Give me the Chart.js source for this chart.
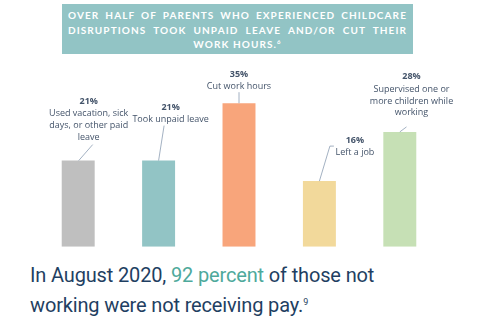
<!DOCTYPE html>
<html>
<head>
<meta charset="utf-8">
<script src="https://cdn.jsdelivr.net/npm/chart.js@4"></script>
<style>
    html, body { margin: 0; padding: 0; background: #fff; }
    body { width: 481px; height: 326px; position: relative; overflow: hidden; }
    #title {
        position: absolute; left: 62px; top: 4px; width: 351px; height: 50px;
        background: #92c4c5; color: #fff; box-sizing: border-box;
        padding: 4px 6px 0 6px;
        font: bold 10px Lato, sans-serif; letter-spacing: 1.1px; line-height: 14.5px;
        text-align: justify; text-align-last: center;
    }
    #title sup { font-size: 6px; vertical-align: 4px; line-height: 0; }
    #chartBox { position: absolute; left: 0; top: 0; width: 481px; height: 260px; }
    #caption {
        position: absolute; left: 30px; top: 260px; width: 380px;
        font: 20px Roboto, sans-serif; color: #1f3f62; line-height: 30px;
        letter-spacing: -0.15px;
    }
    #caption .hl { color: #4ea99b; }
    #caption sup { font-size: 9px; vertical-align: 7px; line-height: 0; }
</style>
</head>
<body>
<div id="title">OVER HALF OF PARENTS WHO EXPERIENCED CHILDCARE DISRUPTIONS TOOK UNPAID LEAVE AND/OR CUT THEIR WORK HOURS.<sup>6</sup></div>
<div id="chartBox"><canvas id="barChart"></canvas></div>
<div id="caption">In August 2020, <span class="hl">92 percent</span> of those not working were not receiving pay.<sup>9</sup></div>
<script>
// data
const categories = [
    ['Used vacation, sick', 'days, or other paid', 'leave'],
    ['Took unpaid leave'],
    ['Cut work hours'],
    ['Left a job'],
    ['Supervised one or', 'more children while', 'working']
];
const shares = [21, 21, 35, 16, 28];
const barColors = ['#bfbfbf', '#92c4c5', '#f8a57b', '#f2d99b', '#c6e0b5'];

// where each label sits relative to the top of its bar: text centre, percent y, leader points
const labelOffsets = [
    { dx: 10.5, dy: -59, leader: [[14.5, -16], [0.5, 0]] },
    { dx: 12, dy: -53, leader: [[5.5, -35], [0, 0]] },
    { dx: 0, dy: -29, leader: [[0, -11], [0, 0]] },
    { dx: 35.5, dy: -41, leader: [[14.5, -35], [10.5, -35], [0, 0]] },
    { dx: 11.7, dy: -55, leader: [[6.7, -5], [0, 0]] }
];

const barLabels = {
    id: 'barLabels',
    afterDatasetsDraw(chart) {
        const ctx = chart.ctx;
        const bars = chart.getDatasetMeta(0).data;
        ctx.save();
        bars.forEach((bar, i) => {
            const off = labelOffsets[i];
            const cx = bar.x + off.dx;
            const y0 = bar.y + off.dy;

            ctx.strokeStyle = '#8c9db3';
            ctx.lineWidth = 0.8;
            ctx.beginPath();
            off.leader.forEach((p, k) => {
                if (k === 0) ctx.moveTo(bar.x + p[0], bar.y + p[1]);
                else ctx.lineTo(bar.x + p[0], bar.y + p[1]);
            });
            ctx.stroke();

            ctx.fillStyle = '#44546a';
            ctx.textAlign = 'center';
            ctx.textBaseline = 'middle';
            ctx.font = 'bold 9px "Open Sans", sans-serif';
            ctx.fillText(shares[i] + '%', cx, y0);
            ctx.font = '9px "Open Sans", sans-serif';
            categories[i].forEach((line, k) => {
                ctx.fillText(line, cx, y0 + 12.3 + k * 11.8);
            });
        });
        ctx.restore();
    }
};

const ctx = document.getElementById('barChart').getContext('2d');
new Chart(ctx, {
    type: 'bar',
    data: {
        labels: categories.map(c => c.join(' ')),
        datasets: [{
            data: shares,
            backgroundColor: barColors,
            borderWidth: 0,
            barPercentage: 0.41,
            categoryPercentage: 1
        }]
    },
    options: {
        responsive: true,
        maintainAspectRatio: false,
        animation: false,
        layout: { padding: { left: 38, right: 41, top: 82.7, bottom: 13.3 } },
        plugins: {
            legend: { display: false },
            tooltip: { enabled: false }
        },
        scales: {
            x: { display: false },
            y: { display: false, min: 0, max: 40 }
        }
    },
    plugins: [barLabels]
});
</script>
</body>
</html>
